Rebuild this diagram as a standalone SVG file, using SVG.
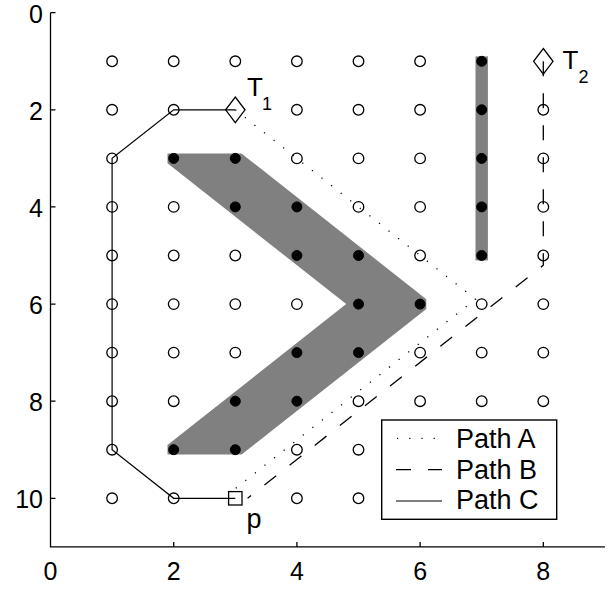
<svg xmlns="http://www.w3.org/2000/svg" width="615" height="589" viewBox="0 0 615 589">
<style>
text{font-family:"Liberation Sans",Arial,sans-serif;fill:#000}
.tk{font-size:25px}
.lg{font-size:27px}
.o{fill:none;stroke:#000;stroke-width:1.3}
.f{fill:#000;stroke:#000;stroke-width:1}
.ax{stroke:#000;stroke-width:1.3;fill:none}
.obs{fill:#808080;stroke:none}
.pa{fill:none;stroke:#000;stroke-width:1.3;stroke-dasharray:1.2 11}
.pb{fill:none;stroke:#000;stroke-width:1.3;stroke-dasharray:15 17}
.pc{fill:none;stroke:#000;stroke-width:1.2}
</style>
<rect width="615" height="589" fill="#fff"/>
<g id="axes">
<path class="ax" d="M50.5,12.7V546.9H604.9"/>
<path class="ax" d="M50.5,12.7h5M50.5,109.8h5M50.5,206.9h5M50.5,304.1h5M50.5,401.2h5M50.5,498.3h5M173.7,546.9v-5M296.9,546.9v-5M420.1,546.9v-5M543.3,546.9v-5"/>
<g class="tk" text-anchor="end">
<text x="43" y="22.7">0</text>
<text x="43" y="119.8">2</text>
<text x="43" y="216.9">4</text>
<text x="43" y="314.1">6</text>
<text x="43" y="411.2">8</text>
<text x="43" y="508.3">10</text>
</g>
<g class="tk" text-anchor="middle">
<text x="50.5" y="580">0</text>
<text x="173.7" y="580">2</text>
<text x="296.9" y="580">4</text>
<text x="420.1" y="580">6</text>
<text x="543.3" y="580">8</text>
</g>
</g>
<g id="obstacles">
<polygon class="obs" points="167.5,153.5 241.5,153.5 426.3,299.2 426.3,308.9 241.5,454.6 167.5,454.6 167.5,444.9 346.2,304.1 167.5,163.2"/>
<rect class="obs" x="475.5" y="56.4" width="12.4" height="204"/>
</g>
<g id="connectors">
<path id="pathC" class="pc" d="M235.3,109.8H173.7L112.1,158.4V449.7L173.7,498.3H235.3"/>
<path id="pathA" class="pa" d="M235.3,109.8L475.5,299.2L235.3,488.6"/>
<path id="pathB" class="pb" d="M543.3,61.3V265.2L247.6,498.3"/>
</g>
<g id="grid-open">
<circle class="o" cx="112.1" cy="61.3" r="5.3"/><circle class="o" cx="173.7" cy="61.3" r="5.3"/><circle class="o" cx="235.3" cy="61.3" r="5.3"/><circle class="o" cx="296.9" cy="61.3" r="5.3"/><circle class="o" cx="358.5" cy="61.3" r="5.3"/><circle class="o" cx="420.1" cy="61.3" r="5.3"/>
<circle class="o" cx="112.1" cy="109.8" r="5.3"/><circle class="o" cx="173.7" cy="109.8" r="5.3"/><circle class="o" cx="296.9" cy="109.8" r="5.3"/><circle class="o" cx="358.5" cy="109.8" r="5.3"/><circle class="o" cx="420.1" cy="109.8" r="5.3"/><circle class="o" cx="543.3" cy="109.8" r="5.3"/>
<circle class="o" cx="112.1" cy="158.4" r="5.3"/><circle class="o" cx="296.9" cy="158.4" r="5.3"/><circle class="o" cx="358.5" cy="158.4" r="5.3"/><circle class="o" cx="420.1" cy="158.4" r="5.3"/><circle class="o" cx="543.3" cy="158.4" r="5.3"/>
<circle class="o" cx="112.1" cy="206.9" r="5.3"/><circle class="o" cx="173.7" cy="206.9" r="5.3"/><circle class="o" cx="358.5" cy="206.9" r="5.3"/><circle class="o" cx="420.1" cy="206.9" r="5.3"/><circle class="o" cx="543.3" cy="206.9" r="5.3"/>
<circle class="o" cx="112.1" cy="255.5" r="5.3"/><circle class="o" cx="173.7" cy="255.5" r="5.3"/><circle class="o" cx="235.3" cy="255.5" r="5.3"/><circle class="o" cx="420.1" cy="255.5" r="5.3"/><circle class="o" cx="543.3" cy="255.5" r="5.3"/>
<circle class="o" cx="112.1" cy="304.1" r="5.3"/><circle class="o" cx="173.7" cy="304.1" r="5.3"/><circle class="o" cx="235.3" cy="304.1" r="5.3"/><circle class="o" cx="296.9" cy="304.1" r="5.3"/><circle class="o" cx="481.7" cy="304.1" r="5.3"/><circle class="o" cx="543.3" cy="304.1" r="5.3"/>
<circle class="o" cx="112.1" cy="352.6" r="5.3"/><circle class="o" cx="173.7" cy="352.6" r="5.3"/><circle class="o" cx="235.3" cy="352.6" r="5.3"/><circle class="o" cx="420.1" cy="352.6" r="5.3"/><circle class="o" cx="481.7" cy="352.6" r="5.3"/><circle class="o" cx="543.3" cy="352.6" r="5.3"/>
<circle class="o" cx="112.1" cy="401.2" r="5.3"/><circle class="o" cx="173.7" cy="401.2" r="5.3"/><circle class="o" cx="358.5" cy="401.2" r="5.3"/><circle class="o" cx="420.1" cy="401.2" r="5.3"/><circle class="o" cx="481.7" cy="401.2" r="5.3"/><circle class="o" cx="543.3" cy="401.2" r="5.3"/>
<circle class="o" cx="112.1" cy="449.7" r="5.3"/><circle class="o" cx="296.9" cy="449.7" r="5.3"/><circle class="o" cx="358.5" cy="449.7" r="5.3"/>
<circle class="o" cx="112.1" cy="498.3" r="5.3"/><circle class="o" cx="173.7" cy="498.3" r="5.3"/><circle class="o" cx="296.9" cy="498.3" r="5.3"/><circle class="o" cx="358.5" cy="498.3" r="5.3"/>
</g>
<g id="grid-filled">
<circle class="f" cx="481.7" cy="61.3" r="5"/><circle class="f" cx="481.7" cy="109.8" r="5"/><circle class="f" cx="481.7" cy="158.4" r="5"/><circle class="f" cx="481.7" cy="206.9" r="5"/><circle class="f" cx="481.7" cy="255.5" r="5"/>
<circle class="f" cx="173.7" cy="158.4" r="5"/><circle class="f" cx="235.3" cy="158.4" r="5"/>
<circle class="f" cx="235.3" cy="206.9" r="5"/><circle class="f" cx="296.9" cy="206.9" r="5"/>
<circle class="f" cx="296.9" cy="255.5" r="5"/><circle class="f" cx="358.5" cy="255.5" r="5"/>
<circle class="f" cx="358.5" cy="304.1" r="5"/><circle class="f" cx="420.1" cy="304.1" r="5"/>
<circle class="f" cx="296.9" cy="352.6" r="5"/><circle class="f" cx="358.5" cy="352.6" r="5"/>
<circle class="f" cx="235.3" cy="401.2" r="5"/><circle class="f" cx="296.9" cy="401.2" r="5"/>
<circle class="f" cx="173.7" cy="449.7" r="5"/><circle class="f" cx="235.3" cy="449.7" r="5"/>
</g>
<g id="T1">
<polygon class="o" points="235.3,97 245,109.8 235.3,122.6 225.6,109.8"/>
<text x="247" y="95.5" font-size="26">T<tspan x="262" y="110" font-size="18">1</tspan></text>
</g>
<g id="T2">
<polygon class="o" points="543.3,48.5 553,61.3 543.3,74.1 533.6,61.3"/>
<text x="562.5" y="69" font-size="26">T<tspan x="578.5" y="83.3" font-size="18">2</tspan></text>
</g>
<g id="p">
<rect class="o" x="228.6" y="491.6" width="13.4" height="13.4"/>
<text x="246.5" y="528.3" font-size="27">p</text>
</g>
<g id="legend">
<rect x="381.7" y="420" width="175" height="99.3" fill="#fff" stroke="#000" stroke-width="1.4"/>
<path class="pa" d="M397,438.3H442"/>
<path class="pb" d="M396,469.7H442"/>
<path class="pc" d="M396,501H442"/>
<text class="lg" x="456" y="447.5">Path A</text>
<text class="lg" x="456" y="478.5">Path B</text>
<text class="lg" x="456" y="509">Path C</text>
</g>
</svg>
